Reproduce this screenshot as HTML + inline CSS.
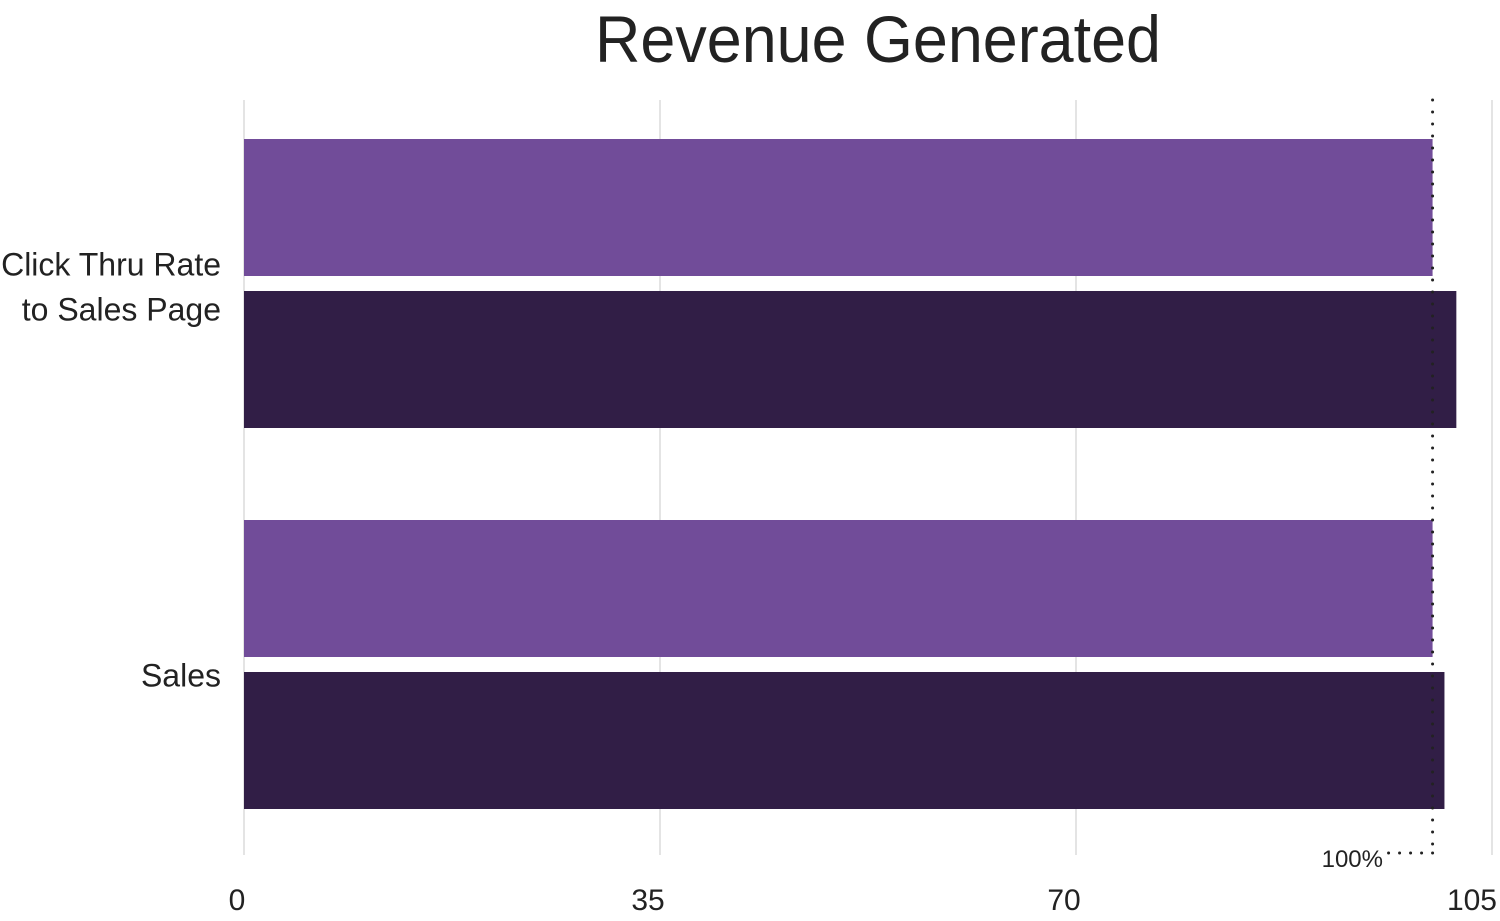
<!DOCTYPE html>
<html><head><meta charset="utf-8"><style>
body{margin:0;background:#fff;width:1500px;height:921px;overflow:hidden}
svg{display:block;font-family:"Liberation Sans",sans-serif}
</style></head><body>
<svg id="chart" width="1500" height="921">
<text x="878" y="62" text-anchor="middle" font-size="66" font-weight="300" fill="#222" textLength="566" lengthAdjust="spacingAndGlyphs">Revenue Generated</text>
<g id="grid"></g><g id="bars"></g><g id="labels"></g>
</svg>
<script>
const categories=[["Click Thru Rate","to Sales Page"],["Sales"]];
const seriesA=[100,100];
const seriesB=[102,101];
const ticks=[0,35,70,105];
const target=100;
const x0=244,pxPer=416/35,plotTop=100,plotBottom=855;
const xs=v=>x0+v*pxPer;
const ns="http://www.w3.org/2000/svg";
function mk(t,a,p){const e=document.createElementNS(ns,t);for(const k in a)e.setAttribute(k,a[k]);p.appendChild(e);return e;}
const grid=document.getElementById('grid'),bars=document.getElementById('bars'),labels=document.getElementById('labels');
ticks.forEach((t,i)=>{
 const l=mk('line',{x1:xs(t),x2:xs(t),y1:plotTop,y2:plotBottom,stroke:'#c8c8c8','stroke-width':1},grid);
 
 
 const last=i==ticks.length-1;
 const tx=mk('text',{x:last?1497:xs(t)-(i==0?7:12),y:910,'font-size':30,fill:'#222','text-anchor':last?'end':'middle'},labels);
 tx.textContent=t;
 
 
});
const groupTops=[139,520],bh=137,gap=15;
categories.forEach((c,i)=>{
 const y=groupTops[i];
 const a=mk('rect',{x:x0,y:y,width:xs(seriesA[i])-x0,height:bh,fill:'#714c99'},bars);
 
 
 const b=mk('rect',{x:x0,y:y+bh+gap,width:xs(seriesB[i])-x0,height:bh,fill:'#311e46'},bars);
 
 
 const cy=y+bh+gap/2;
 const t=mk('text',{x:221,y:0,'font-size':32,fill:'#222','text-anchor':'end'},labels);
 
 
 c.forEach((ln,j)=>{const s=mk('tspan',{x:221,y:cy-(c.length-1)*22+j*45+14+(c.length==1?8:0)},t);s.textContent=ln;});
});
const tl=mk('line',{x1:xs(target),x2:xs(target),y1:plotTop,y2:plotBottom,stroke:'#222','stroke-width':3,'stroke-dasharray':'0 12','stroke-linecap':'round'},labels);


const th=mk('line',{x1:xs(target),x2:1388,y1:853,y2:853,stroke:'#222','stroke-width':3,'stroke-dasharray':'0 11','stroke-linecap':'round'},labels);


const tt=mk('text',{x:1383,y:867,'font-size':24,fill:'#222','text-anchor':'end'},labels);
tt.textContent=target+'%';


</script>
</body></html>
